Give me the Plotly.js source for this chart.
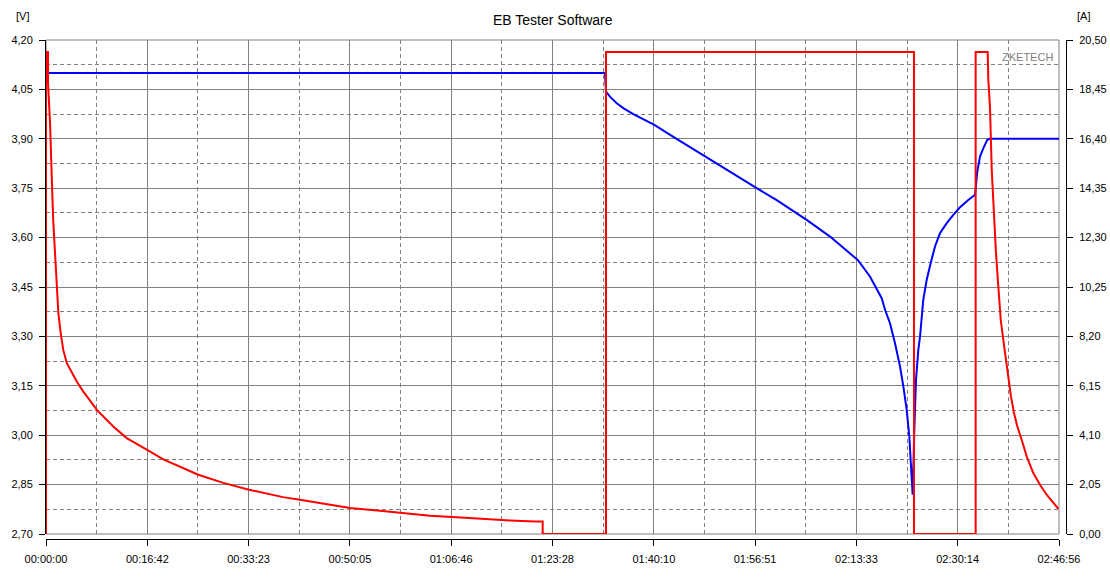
<!DOCTYPE html>
<html>
<head>
<meta charset="utf-8">
<script src="https://cdn.plot.ly/plotly-3.0.1.min.js"></script>
<style>
  body { margin: 0; background: #fff; }
  #plot { width: 1110px; height: 580px; }
</style>
</head>
<body>
<div id="plot"></div>
<script>
// tempo em segundos
const tempoTicks = [0, 1002, 2003, 3005, 4006, 5008, 6010, 7011, 8013, 9014, 10016]
const tempoLabels = ['00:00:00', '00:16:42', '00:33:23', '00:50:05', '01:06:46', '01:23:28',
  '01:40:10', '01:56:51', '02:13:33', '02:30:14', '02:46:56']

const voltTicks = [2.70, 2.85, 3.00, 3.15, 3.30, 3.45, 3.60, 3.75, 3.90, 4.05, 4.20]
const voltLabels = ['2,70', '2,85', '3,00', '3,15', '3,30', '3,45', '3,60', '3,75', '3,90', '4,05', '4,20']

const ampTicks = [0, 2.05, 4.10, 6.15, 8.20, 10.25, 12.30, 14.35, 16.40, 18.45, 20.50]
const ampLabels = ['0,00', '2,05', '4,10', '6,15', '8,20', '10,25', '12,30', '14,35', '16,40', '18,45', '20,50']

// tensao (azul)
const tensaoT = [0, 5527, 5537, 5576, 5643, 5708, 5807, 6015, 6203, 6519, 6697, 7027, 7225, 7521,
  7752, 8026, 8147, 8263, 8296, 8345, 8394, 8444, 8477, 8510, 8536, 8553, 8569,
  8585, 8602, 8625, 8642, 8674, 8708, 8747, 8790, 8839, 8906, 8971, 9037, 9119, 9186,
  9208, 9235, 9267, 9307, 9334, 10016]
const tensaoV = [4.10, 4.10, 4.043, 4.028, 4.008, 3.993, 3.975, 3.942, 3.906, 3.846, 3.811, 3.750, 3.714, 3.654,
  3.603, 3.532, 3.482, 3.416, 3.381, 3.340, 3.280, 3.209, 3.148, 3.077, 2.996, 2.905, 2.819,
  3.011, 3.168, 3.259, 3.300, 3.411, 3.472, 3.522, 3.573, 3.613, 3.644, 3.669, 3.692, 3.714, 3.730,
  3.800, 3.846, 3.871, 3.897, 3.900, 3.900]

// corrente (vermelho)
const correnteT = [0, 0, 20, 20, 40, 49, 62, 72, 82, 92, 106, 122, 145, 171, 205, 254, 304, 369,
  507, 665, 798, 996, 1160, 1506, 1753, 2007, 2343, 2511, 2808, 3006, 3302, 3533, 3797, 4061,
  4259, 4456, 4588, 4835, 4911, 4911, 5537, 5537, 8582, 8582, 9192, 9192, 9311,
  9317, 9334, 9351, 9373, 9393, 9416, 9440, 9465, 9492, 9515, 9541, 9571, 9604, 9647,
  9697, 9762, 9828, 9894, 9960, 10010]
const correnteA = [0, 20.0, 20.0, 18.71, 17.05, 15.25, 14.14, 12.97, 12.21, 11.38, 10.27, 9.17, 8.35, 7.64, 7.10, 6.69, 6.33, 5.91,
  5.13, 4.46, 3.98, 3.50, 3.10, 2.46, 2.12, 1.84, 1.53, 1.42, 1.22, 1.08, 0.97, 0.87, 0.76, 0.69,
  0.63, 0.59, 0.56, 0.52, 0.52, 0, 0, 20.0, 20.0, 0, 0, 20.0, 20.0,
  18.88, 17.67, 15.11, 13.04, 11.65, 10.27, 8.89, 8.06, 7.23, 6.40, 5.71, 5.02, 4.46, 3.91,
  3.21, 2.53, 2.04, 1.63, 1.29, 1.04]

// linhas tracejadas no meio das principais
const meio = arr => arr.slice(1).map((v, i) => (v + arr[i]) / 2)

const cinza = '#808080'
const tracejado = '4px,3px'
const fonte = { family: 'Liberation Sans, Arial, sans-serif', size: 11, color: '#000' }

const data = [
  { x: tensaoT, y: tensaoV, yaxis: 'y', type: 'scatter', mode: 'lines',
    line: { color: '#0000ff', width: 2 }, hoverinfo: 'skip' },
  { x: correnteT, y: correnteA, yaxis: 'y2', type: 'scatter', mode: 'lines',
    line: { color: '#ff0000', width: 2 }, hoverinfo: 'skip' }
]

const layout = {
  width: 1110, height: 580,
  margin: { l: 46, r: 44, t: 40, b: 41 },
  paper_bgcolor: '#fff', plot_bgcolor: '#fff',
  showlegend: false,
  font: fonte,
  title: {
    text: 'EB Tester Software', xref: 'container', yref: 'container',
    x: 0.498, y: 1 - 20 / 580, xanchor: 'center', yanchor: 'middle',
    font: { family: 'Liberation Sans, Arial, sans-serif', size: 14, color: '#000' }
  },
  xaxis: {
    domain: [0, 1013 / 1020], range: [0, 10016], anchor: 'free', position: 0,
    tickmode: 'array', tickvals: tempoTicks, ticktext: tempoLabels,
    showgrid: true, gridcolor: cinza, gridwidth: 1,
    minor: { tickmode: 'array', tickvals: meio(tempoTicks), showgrid: true,
      gridcolor: cinza, griddash: tracejado, gridwidth: 1, ticks: '' },
    showline: true, linecolor: '#000', linewidth: 1,
    ticks: 'outside', ticklen: 6, tickcolor: '#000', ticklabelstandoff: 4,
    zeroline: false, fixedrange: true
  },
  yaxis: {
    domain: [5 / 499, 1], range: [2.70, 4.20],
    tickmode: 'array', tickvals: voltTicks, ticktext: voltLabels,
    showgrid: true, gridcolor: cinza, gridwidth: 1,
    minor: { tickmode: 'array', tickvals: meio(voltTicks), showgrid: true,
      gridcolor: cinza, griddash: tracejado, gridwidth: 1, ticks: '' },
    showline: true, linecolor: '#000', linewidth: 1, layer: 'below traces',
    ticks: 'outside', ticklen: 6, tickcolor: '#000', ticklabelstandoff: 4,
    zeroline: false, fixedrange: true
  },
  yaxis2: {
    overlaying: 'y', side: 'right', anchor: 'free', position: 1,
    range: [0, 20.5],
    tickmode: 'array', tickvals: ampTicks, ticktext: ampLabels,
    showgrid: false, showline: true, linecolor: '#000', linewidth: 1,
    ticks: 'outside', ticklen: 6, tickcolor: '#000', ticklabelstandoff: 4,
    zeroline: false, fixedrange: true
  },
  shapes: [
    { type: 'rect', xref: 'x domain', yref: 'y domain', x0: 0, x1: 1, y0: 0, y1: 1,
      line: { color: cinza, width: 1 }, layer: 'below' }
  ],
  annotations: [
    { text: '[V]', xref: 'paper', yref: 'paper', x: -24 / 1020, y: 1 + 24 / 499,
      xanchor: 'center', yanchor: 'middle', showarrow: false, font: fonte },
    { text: '[A]', xref: 'paper', yref: 'paper', x: 1 + 17 / 1020, y: 1 + 24 / 499,
      xanchor: 'center', yanchor: 'middle', showarrow: false, font: fonte },
    { text: 'ZKETECH', xref: 'paper', yref: 'paper', x: 1009 / 1020, y: 1 - 17 / 499,
      xanchor: 'right', yanchor: 'middle', showarrow: false,
      font: { family: 'Liberation Sans, Arial, sans-serif', size: 11, color: cinza } }
  ]
}

Plotly.newPlot('plot', data, layout, { staticPlot: true, displayModeBar: false })
</script>
</body>
</html>
